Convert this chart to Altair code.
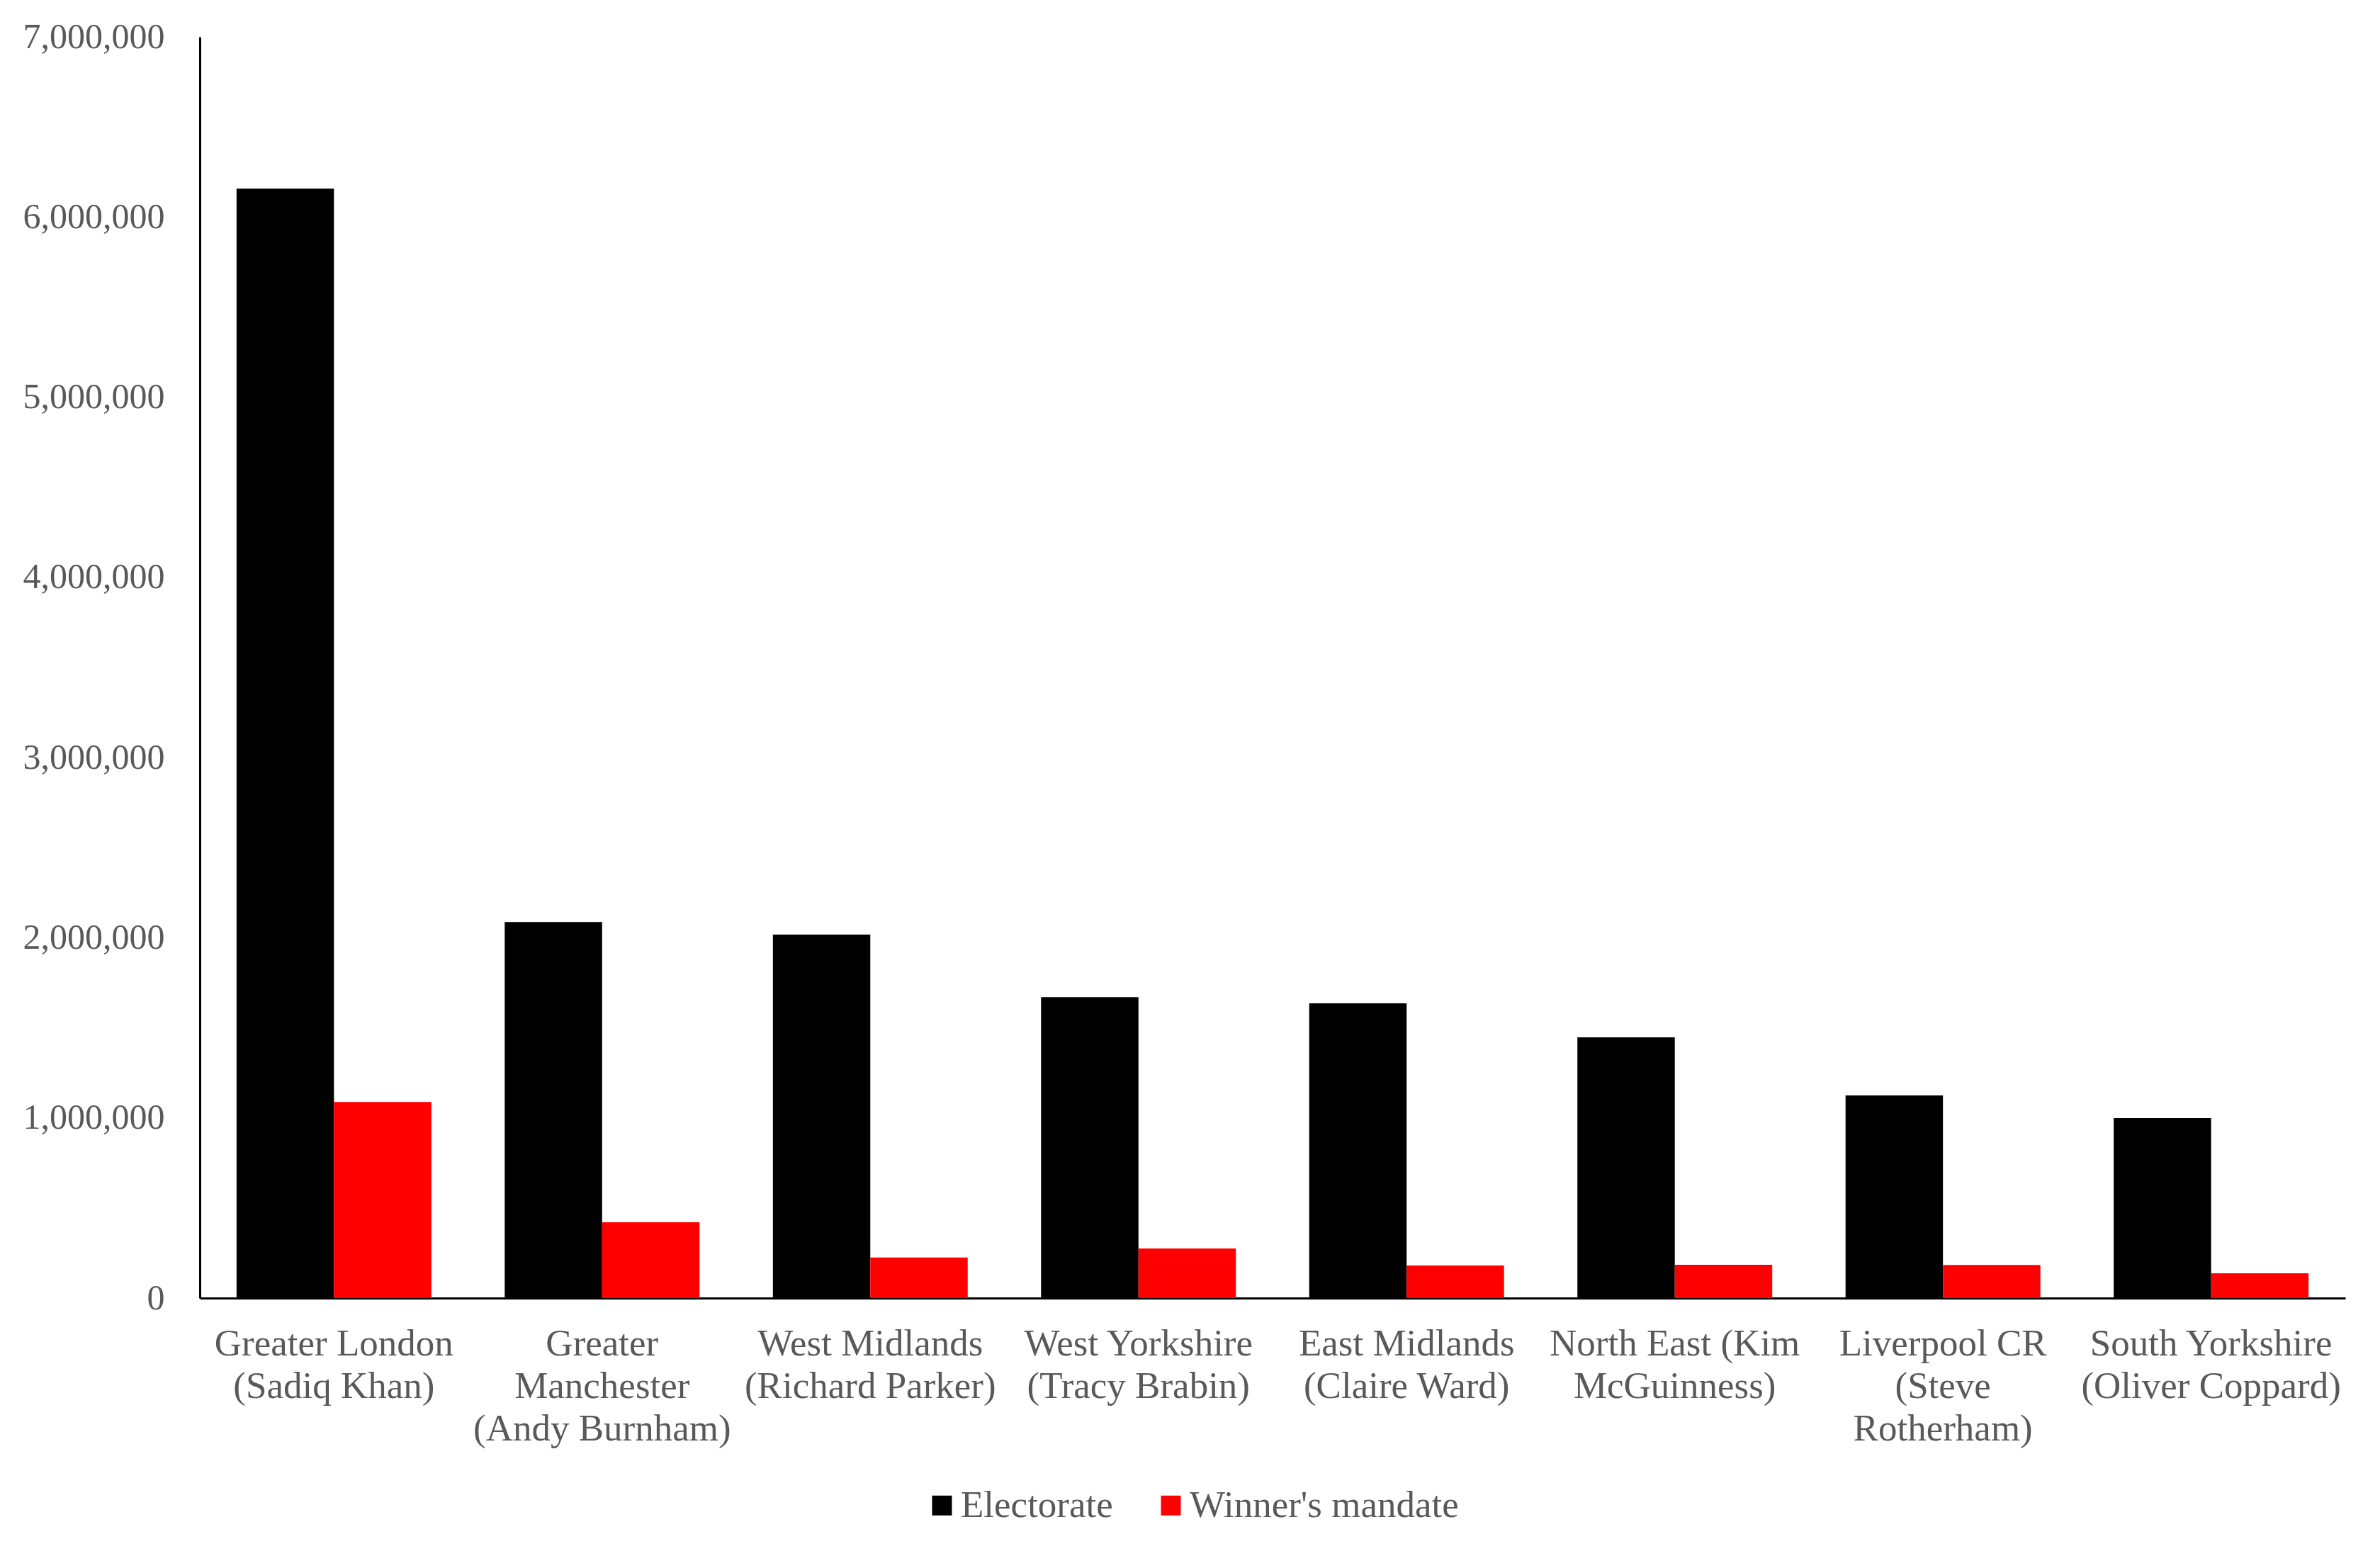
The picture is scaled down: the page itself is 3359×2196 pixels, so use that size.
import altair as alt
import pandas as pd

categories = [
    "Greater London|(Sadiq Khan)",
    "Greater|Manchester|(Andy Burnham)",
    "West Midlands|(Richard Parker)",
    "West Yorkshire|(Tracy Brabin)",
    "East Midlands|(Claire Ward)",
    "North East (Kim|McGuinness)",
    "Liverpool CR|(Steve|Rotherham)",
    "South Yorkshire|(Oliver Coppard)",
]
electorate = [6157000, 2087000, 2017000, 1670000, 1636000, 1447000, 1125000, 999000]
mandate = [1088000, 421000, 225000, 275000, 181000, 185000, 184000, 138000]
series_names = ["Electorate", "Winner's mandate"]
series_colors = ["#000000", "#FF0000"]
y_ticks = [0, 1000000, 2000000, 3000000, 4000000, 5000000, 6000000, 7000000]

rows = []
for c, e, m in zip(categories, electorate, mandate):
    rows.append({"category": c, "series": series_names[0], "value": e})
    rows.append({"category": c, "series": series_names[1], "value": m})
df = pd.DataFrame(rows)

FONT = "Liberation Serif"
GREY = "#595959"

chart = (
    alt.Chart(df)
    .mark_bar()
    .encode(
        x=alt.X(
            "category:N",
            sort=categories,
            scale=alt.Scale(paddingInner=0.2735, paddingOuter=0.137),
            axis=alt.Axis(
                title=None,
                labelAngle=0,
                labelExpr="split(datum.value, '|')",
                labelFont=FONT,
                labelFontSize=53,
                labelColor=GREY,
                labelLineHeight=60,
                labelBaseline="top",
                labelPadding=38,
                labelLimit=0,
                labelOverlap=False,
                ticks=False,
                tickSize=0,
                domainColor="#000000",
                domainWidth=3,
                grid=False,
            ),
        ),
        xOffset=alt.XOffset("series:N", sort=series_names, scale=alt.Scale(paddingInner=0, paddingOuter=0)),
        y=alt.Y(
            "value:Q",
            scale=alt.Scale(domain=[0, 7000000], nice=False),
            axis=alt.Axis(
                title=None,
                values=y_ticks,
                format=",.0f",
                labelFont=FONT,
                labelFontSize=50,
                labelColor=GREY,
                labelPadding=50,
                labelLimit=0,
                labelOverlap=False,
                ticks=False,
                tickSize=0,
                domainColor="#000000",
                domainWidth=3,
                grid=False,
            ),
        ),
        color=alt.Color(
            "series:N",
            sort=series_names,
            scale=alt.Scale(domain=series_names, range=series_colors),
            legend=alt.Legend(
                title=None,
                orient="none",
                legendX=1021,
                legendY=2046,
                direction="horizontal",
                symbolType="square",
                symbolSize=784,
                symbolStrokeWidth=0,
                labelFont=FONT,
                labelFontSize=53,
                labelColor=GREY,
                labelOffset=0,
                labelLimit=0,
                columnPadding=55,
                padding=0,
            ),
        ),
    )
    .properties(
        width=3028,
        height=1780,
        autosize=alt.AutoSizeParams(type="none"),
        padding={"left": 274, "top": 44, "right": 30, "bottom": 340},
    )
    .configure(background="#FFFFFF")
    .configure_view(stroke=None, strokeWidth=0)
)

chart.save("out.html", embed_options={"renderer": "svg", "actions": False})
